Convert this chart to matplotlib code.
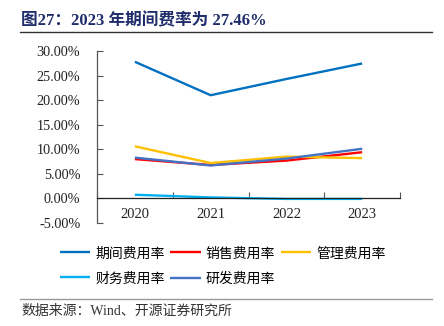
import matplotlib
matplotlib.use("Agg")
import matplotlib.pyplot as plt
from matplotlib.lines import Line2D
from matplotlib.ticker import FuncFormatter

plt.rcParams['font.family'] = ['Liberation Serif', 'Noto Sans CJK SC']

years = ['2020', '2021', '2022', '2023']
series_names = ['期间费用率', '销售费用率', '管理费用率', '财务费用率', '研发费用率']
period_rate = [27.8, 21.0, 24.3, 27.46]
sales_rate = [8.0, 6.8, 7.7, 9.4]
admin_rate = [10.6, 7.2, 8.5, 8.2]
finance_rate = [0.75, 0.2, -0.1, -0.1]
rd_rate = [8.3, 6.7, 8.1, 10.1]
colors = ['#0070C0', '#FF0000', '#FFC000', '#00B0F0', '#4472C4']

fig = plt.figure(figsize=(4.44, 3.26), dpi=100)
ax = fig.add_axes([0.2185, 0.316, 0.6825, 0.5276])

x = list(range(len(years)))
lines = []
for name, vals, c in zip(series_names,
                         [period_rate, sales_rate, admin_rate, finance_rate, rd_rate],
                         colors):
    ln, = ax.plot(x, vals, color=c, lw=1.7, label=name, solid_capstyle='butt')
    lines.append(ln)

ax.set_xlim(-0.5, 3.5)
ax.set_ylim(-5, 30)
ax.set_yticks(range(-5, 31, 5))
ax.yaxis.set_major_formatter(FuncFormatter(lambda v, p: f'{v:.2f}%'))

# category boundaries carry the tick marks, centers carry the labels
ax.set_xticks([-0.5, 0.5, 1.5, 2.5, 3.5])
ax.set_xticklabels([])
ax.set_xticks(x, minor=True)
ax.set_xticklabels(years, minor=True)
ax.tick_params(axis='x', which='major', direction='in', length=4, color='#555555')
ax.tick_params(axis='x', which='minor', length=0, pad=7, labelsize=10.5, labelcolor='#222222')
ax.tick_params(axis='y', direction='in', length=4, pad=12, labelsize=10.3,
               labelcolor='#222222', color='#555555')

for s in ['top', 'right']:
    ax.spines[s].set_visible(False)
ax.spines['bottom'].set_position(('data', 0))
ax.spines['bottom'].set_color('#222222')
ax.spines['left'].set_color('#555555')
ax.spines['bottom'].set_linewidth(0.9)
ax.spines['left'].set_linewidth(0.9)
ax.spines['left'].set_bounds(-5, 30)

fig.text(0.048, 0.935, '图27：2023 年期间费率为 27.46%', fontsize=12,
         fontweight='bold', color='#1F2D6B', va='center', ha='left')
fig.add_artist(Line2D([0.045, 0.973], [0.901, 0.901], color='#333333', lw=1.0))
fig.add_artist(Line2D([0.045, 0.973], [0.083, 0.083], color='#999999', lw=1.0))
fig.text(0.048, 0.045, '数据来源：Wind、开源证券研究所', fontsize=10,
         color='#333333', va='center', ha='left')

# row-major order in a 3-column legend
order = [0, 3, 1, 4, 2]
fig.legend([lines[i] for i in order], [series_names[i] for i in order],
           loc='upper left', bbox_to_anchor=(0.135, 0.242), ncol=3, frameon=False,
           fontsize=10, handlelength=2.2, handletextpad=0.35, columnspacing=0.4,
           labelspacing=0.85, borderaxespad=0, borderpad=0)

fig.savefig('out.png', dpi=100)
